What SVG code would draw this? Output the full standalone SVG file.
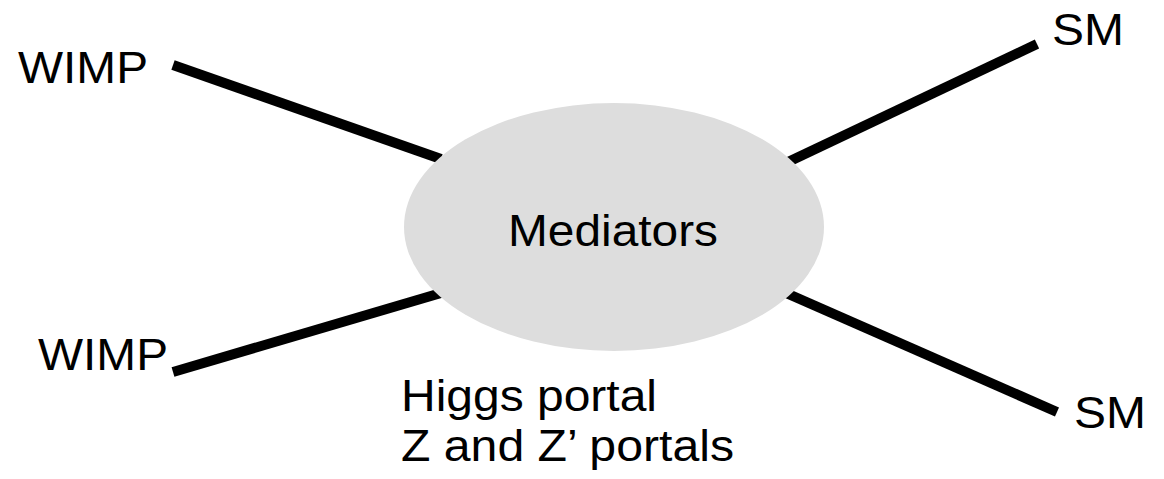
<svg xmlns="http://www.w3.org/2000/svg" width="1164" height="479" viewBox="0 0 1164 479">
  <style>
    .lbl { font-family: "Liberation Sans", Arial, sans-serif; font-size: 45px; fill: #000; }
    .leg { stroke: #000; stroke-width: 10; stroke-linecap: butt; fill: none; }
  </style>
  <rect width="1164" height="479" fill="#fff"/>
  <!-- connectors: particle legs attached to the mediator blob -->
  <g id="connectors">
    <line class="leg" x1="173" y1="65" x2="441" y2="159"/>
    <line class="leg" x1="173" y1="372" x2="441" y2="293"/>
    <line class="leg" x1="788" y1="162" x2="1037" y2="44"/>
    <line class="leg" x1="786" y1="293" x2="1057" y2="412"/>
  </g>
  <g id="mediators">
    <ellipse cx="614" cy="227" rx="210" ry="124" fill="#dddddd"/>
    <text class="lbl" x="508" y="246" textLength="210" lengthAdjust="spacingAndGlyphs">Mediators</text>
  </g>
  <g id="wimp-in">
    <text class="lbl" x="18" y="83" textLength="130" lengthAdjust="spacingAndGlyphs">WIMP</text>
  </g>
  <g id="wimp-out">
    <text class="lbl" x="38" y="370" textLength="130" lengthAdjust="spacingAndGlyphs">WIMP</text>
  </g>
  <g id="sm-top">
    <text class="lbl" x="1052" y="45" textLength="72" lengthAdjust="spacingAndGlyphs">SM</text>
  </g>
  <g id="sm-bottom">
    <text class="lbl" x="1074" y="428" textLength="72" lengthAdjust="spacingAndGlyphs">SM</text>
  </g>
  <g id="portals">
    <text class="lbl" x="401" y="411" textLength="256" lengthAdjust="spacingAndGlyphs">Higgs portal</text>
    <text class="lbl" x="401" y="461" textLength="333" lengthAdjust="spacingAndGlyphs">Z and Z’ portals</text>
  </g>
</svg>
